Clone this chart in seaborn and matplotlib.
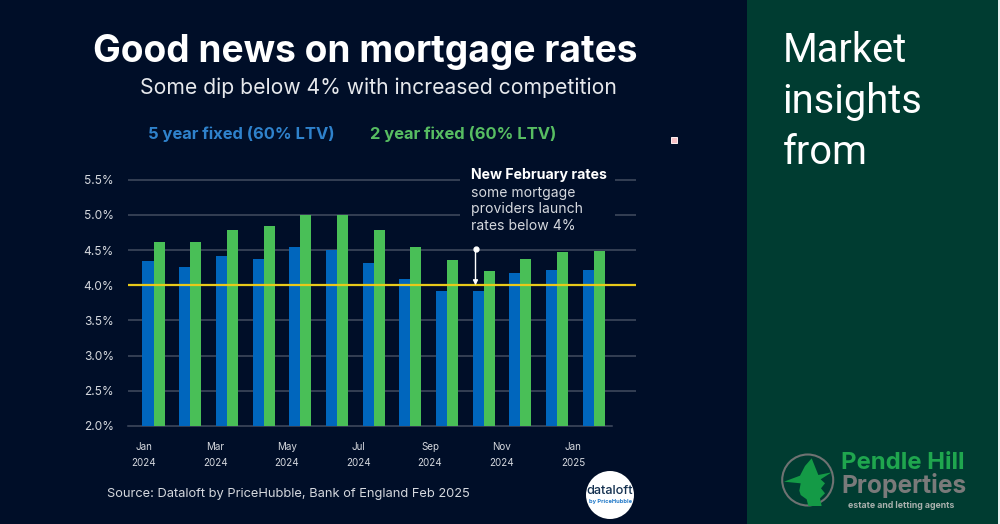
import numpy as np
import pandas as pd
import seaborn as sns
import matplotlib
matplotlib.use("Agg")
import matplotlib.pyplot as plt
from matplotlib.patches import Rectangle, Circle, Polygon

months = ["Jan 2024","Feb 2024","Mar 2024","Apr 2024","May 2024","Jun 2024","Jul 2024",
          "Aug 2024","Sep 2024","Oct 2024","Nov 2024","Dec 2024","Jan 2025"]
five_year = [4.35,4.26,4.41,4.37,4.54,4.50,4.31,4.09,3.92,3.92,4.18,4.22,4.22]
two_year = [4.61,4.61,4.78,4.84,5.00,5.00,4.78,4.55,4.36,4.21,4.38,4.47,4.49]
series_names = ["5 year fixed (60% LTV)", "2 year fixed (60% LTV)"]
y_ticks = [2.0,2.5,3.0,3.5,4.0,4.5,5.0,5.5]
x_labels = ["Jan\n2024","Mar\n2024","May\n2024","Jul\n2024","Sep\n2024","Nov\n2024","Jan\n2025"]

BG="#000e28"; PANEL="#003c31"; BLUE="#0066bd"; GREEN="#49bf57"; YEL="#e8c91a"; GRID="#424c60"; TXT="#d5d8de"
W,H=1000,524

sns.set_theme(style="white")
plt.rcParams['font.family']=['Inter','DejaVu Sans']
fig=plt.figure(figsize=(W/100,H/100),dpi=100,facecolor=BG)

def px(x,y): return x/W,1-y/H
def T(x,y,s,**k):
    k.setdefault('ha','center');k.setdefault('va','center')
    return fig.text(*px(x,y),s,**k)

# right panel
fig.add_artist(Rectangle(px(747,524),251/W,1,transform=fig.transFigure,fc=PANEL,ec='none',zorder=-2))
fig.add_artist(Rectangle(px(998,524),2/W,1,transform=fig.transFigure,fc='#e8eeee',ec='none',zorder=-2))

left,right,top,bot=128,636,172,426
ax=fig.add_axes([left/W,1-bot/H,(right-left)/W,(bot-top)/H],facecolor='none')
df=pd.DataFrame({"month":months*2,"rate":five_year+two_year,
                 "series":[series_names[0]]*13+[series_names[1]]*13})
sns.barplot(data=df,x="month",y="rate",hue="series",palette=[BLUE,GREEN],width=0.6,gap=0,
            saturation=1,legend=False,ax=ax,zorder=3,errorbar=None,edgecolor='none',linewidth=0)
step=36.67; c0=153.5
ax.set_xlim((left-c0)/step,(right-c0)/step)
ax.set_ylim(2,5.61)
ax.set_yticks(y_ticks,[f"{v:.1f}%" for v in y_ticks])
ax.yaxis.grid(True,color=GRID,lw=1.1,zorder=0); ax.xaxis.grid(False); ax.set_axisbelow(True)
ax.yaxis.get_gridlines()[0].set_visible(False)
ax.axhline(4.0,color=YEL,lw=1.6,zorder=5)
for s in ['top','left','right']: ax.spines[s].set_visible(False)
ax.spines['bottom'].set_color(GRID); ax.spines['bottom'].set_linewidth(1.1)
ax.spines['bottom'].set_bounds((left-c0)/step,(612-c0)/step)
ax.set_xlabel("");ax.set_ylabel("")
ax.tick_params(axis='y',length=0,labelsize=8.6,labelcolor=TXT,pad=10.2)
ax.set_xticks([(144+71.5*i-c0)/step for i in range(7)],x_labels)
ax.tick_params(axis='x',length=0,labelsize=7.1,labelcolor=TXT,pad=11.5)
for l in ax.get_xticklabels(): l.set_linespacing(1.72)

# gap behind annotation
fig.add_artist(Rectangle(px(460,228),155/W,62/H,transform=fig.transFigure,fc=BG,ec='none',zorder=4))
T(471,175.5,"New February rates",ha='left',fontsize=10.2,fontweight='bold',color='white',zorder=6)
for y,s in zip([192.5,209.5,226.5],["some mortgage","providers launch","rates below 4%"]):
    T(471,y,s,ha='left',fontsize=10.1,color=TXT,zorder=6)
ax.annotate("",xy=(9+(475.5-(c0+9*step))/step,4.0),xytext=(9+(475.5-(c0+9*step))/step,4.52),
            arrowprops=dict(arrowstyle='-|>',color='white',lw=1,shrinkA=0,shrinkB=0,mutation_scale=7),zorder=7)
ax.plot([9+(475.5-(c0+9*step))/step],[4.52],'o',color='white',ms=3.5,zorder=7)

# headings
T(365,52,"Good news on mortgage rates",fontsize=26.7,fontweight='bold',color='white')
T(378,88,"Some dip below 4% with increased competition",fontsize=15.2,color='#e6e8ec')
T(241.5,134,series_names[0],fontsize=11.9,fontweight='bold',color='#2f82cc')
T(463,134,series_names[1],fontsize=11.9,fontweight='bold',color='#57bd62')
T(288.5,493.5,"Source: Dataloft by PriceHubble, Bank of England Feb 2025",fontsize=9.25,color=TXT)
fig.add_artist(Rectangle(px(671.3,143.3),5.6/W,6/H,transform=fig.transFigure,fc='#f6c0c6',ec='#fff2f2',lw=.7))

# panel text
for y,s in zip([50,101,152],["Market","insights","from"]):
    T(782.5,y+1,s,ha='left',fontsize=28.7,color='white',family=['Roboto','DejaVu Sans'])

# logos drawn on a pixel-space overlay
ov=fig.add_axes([0,0,1,1],facecolor='none');ov.set_xlim(0,W);ov.set_ylim(H,0);ov.axis('off')
ov.add_patch(Circle((610,495),24,fc='white',ec='none'))
ov.text(610,491,"dataloft",ha='center',va='center',fontsize=9.2,color='#14304f',fontweight='medium')
ov.text(610.5,502,"by PriceHubble",ha='center',va='center',fontsize=4.1,color='#1f78c8',fontweight='bold')
ov.add_patch(Circle((807.7,480),25.5,fc='none',ec='#6f7272',lw=1.5))
witch=[(155,55),(175,105),(215,97),(182,118),(195,130),(183,145),(195,160),(180,175),(185,198),(145,198),(140,178),
       (122,165),(118,152),(122,130),(72,125),(120,107),(135,78)]
ov.add_patch(Polygon([(760+a/3,440+b/3) for a,b in witch],closed=True,fc='#149a46',ec='none'))
ov.text(841,463,"Pendle Hill",ha='left',va='center',fontsize=17.2,fontweight='bold',color='#1fa64e')
ov.text(841,485,"Properties",ha='left',va='center',fontsize=17.7,fontweight='bold',color='#7a7a7a')
ov.text(847.5,505,"estate and letting agents",ha='left',va='center',fontsize=6.3,fontweight='bold',color='#a9b0ad')

fig.savefig("out.png",dpi=100,facecolor=BG)
